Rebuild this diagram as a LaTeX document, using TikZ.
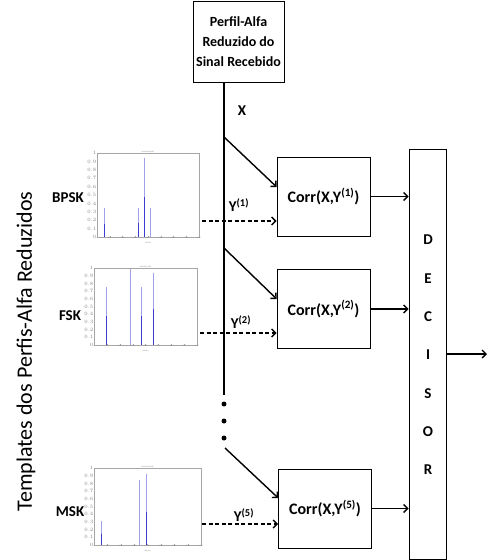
\documentclass[tikz,border=0pt]{standalone}
\usepackage{fontspec}
\setmainfont{Carlito}
\usetikzlibrary{arrows.meta,calc}
\definecolor{barlight}{RGB}{160,160,235}
\definecolor{bardark}{RGB}{60,60,210}
\newcommand{\specplot}[6]{%
  \foreach \bx/\bh/\bd in {#6}{
    \fill[barlight] ({round(#1+\bx*(#3-#1))-0.25},#4) rectangle ++(1.5,{-\bh*(#4-#2)});
    \fill[bardark] ({round(#1+\bx*(#3-#1))-0.25},#4) rectangle ++(1.5,{-\bd*(#4-#2)});}
  \draw[gray!70,line width=0.3pt] (#1,#2) rectangle (#3,#4);
  \foreach \k in {0,...,8}{
    \draw[gray!70,line width=0.2pt] ({#1+\k*(#3-#1)/8},#4) -- ++(0,-1);
    \node[tick,below] at ({#1+\k*(#3-#1)/8},#4) {\pgfmathparse{int(\k*500)}\pgfmathresult};}
  \foreach \k in {0,...,10}{
    \draw[gray!70,line width=0.2pt] (#1,{#4-\k*(#4-#2)/10}) -- ++(1,0);
    \node[tick,left] at (#1,{#4-\k*(#4-#2)/10}) {\pgfmathparse{\k/10}\pgfmathprintnumber[fixed,precision=1]{\pgfmathresult}};}
  \node[tick,above] at ({(#1+#3)/2},#2) {Perfil-Alfa (#5)};
  \node[tick] at ({(#1+#3)/2},{#4+6}) {alfa (Hz)};
}
\tikzset{
  box/.style={draw, line width=0.6pt, align=center, inner sep=0pt},
  lbl/.style={font=\bfseries\fontsize{15}{17}\selectfont, inner sep=0pt},
  corr/.style={box, minimum width=93pt, minimum height=79pt, font=\bfseries\fontsize{16}{18}\selectfont},
  arr/.style={line width=1.4pt, -{Straight Barb[length=4pt,width=8pt]}},
  darr/.style={arr, dash pattern=on 4pt off 2.5pt},
  bus/.style={line width=1.8pt},
  tick/.style={font=\fontsize{1.8}{2}\selectfont, text=gray, inner sep=0.4pt},
  dotn/.style={circle, fill=black, inner sep=0pt, minimum size=5pt}
}
\begin{document}
\begin{tikzpicture}[x=1pt,y=-1pt]
\useasboundingbox (0,0) rectangle (487,560);
% spectra
\specplot{97}{153}{199}{237}{BPSK}{0.066/0.34/0.16, 0.40/0.34/0.17, 0.46/0.945/0.48, 0.52/0.34/0}
\specplot{94}{268}{197}{345}{FSK}{0.116/0.75/0.375, 0.352/1.0/0, 0.461/0.75/0.375, 0.574/0.935/0.47}
\specplot{94}{468}{201}{545}{MSK}{0.0625/0.31/0.14, 0.425/0.85/0, 0.484/0.92/0.43}
% top box
\node[box, minimum width=91pt, minimum height=81pt, font=\bfseries\fontsize{14}{20}\selectfont] (top) at (238.5,41.5) {Perfil-Alfa\\Reduzido do\\Sinal Recebido};
% correlator boxes
\node[corr] (c1) at (323.5,196.5) {Corr(X,Y\textsuperscript{(1)})};
\node[corr] (c2) at (323.5,309) {Corr(X,Y\textsuperscript{(2)})};
\node[corr] (c3) at (325,508.5) {Corr(X,Y\textsuperscript{(5)})};
% decisor
\node[box, minimum width=37pt, minimum height=410pt] (dec) at (427.5,354) {};
\foreach \l [count=\i from 0] in {D,E,C,I,S,O,R}
  \node[lbl, font=\bfseries\fontsize{15}{17}\selectfont] (dl\i) at (428,{240+\i*38.3}) {\l};
% bus
\coordinate (b0) at (224,82);
\coordinate (b1) at (224,395);
\draw[bus] (b0) -- (b1);
\node[dotn] (d1) at (224,404) {};
\node[dotn] (d2) at (224,421) {};
\node[dotn] (d3) at (224,438) {};
\coordinate (x1) at (224,137);
\coordinate (x2) at (224,248);
\coordinate (x3) at (225,448);
\draw[arr] (x1) -- ([yshift=9.5pt]c1.west);
\draw[arr] (x2) -- ([yshift=10pt]c2.west);
\draw[arr] (x3) -- ([yshift=10.5pt]c3.west);
% dashed template inputs
\coordinate (y1) at (202,221);
\coordinate (y2) at (200,333);
\coordinate (y3) at (202,524);
\draw[darr] (y1) -- ([yshift=-24.5pt]c1.west);
\draw[darr] (y2) -- ([yshift=-24pt]c2.west);
\draw[darr] (y3) -- ([yshift=-15.5pt]c3.west);
% to decisor
\draw[arr] (c1.east) -- (c1.east -| dec.west);
\draw[arr] (c2.east) -- (c2.east -| dec.west);
\draw[arr] (c3.east) -- (c3.east -| dec.west);
\coordinate (out) at (487,354);
\draw[arr] (dec.east) -- (out);
% labels
\node[lbl] (lx) at (242,111) {X};
\node[lbl] (ly1) at (239,205) {Y\textsuperscript{(1)}};
\node[lbl] (ly2) at (241,322) {Y\textsuperscript{(2)}};
\node[lbl] (ly5) at (244,515) {Y\textsuperscript{(5)}};
\node[lbl] (lb) at (68,198) {BPSK};
\node[lbl] (lf) at (70,316) {FSK};
\node[lbl] (lm) at (70,512) {MSK};
\node[rotate=90, font=\fontsize{22}{26}\selectfont, inner sep=0pt] (side) at (26,351.5) {Templates dos Perfis-Alfa Reduzidos};
\end{tikzpicture}
\end{document}
